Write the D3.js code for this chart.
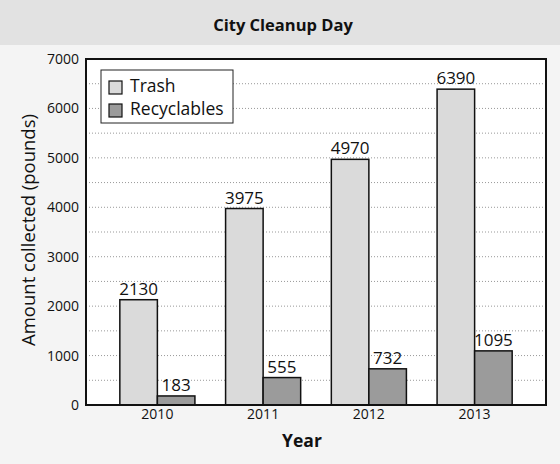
<!DOCTYPE html>
<html>
<head>
<meta charset="utf-8">
<script src="https://cdn.jsdelivr.net/npm/d3@7"></script>
<style>
  body { margin: 0; background: #f4f4f4; }
  text { font-family: "Open Sans", "Noto Sans", sans-serif; fill: #111; }
</style>
</head>
<body>
<svg id="chart" width="560" height="464"></svg>
<script>
// data
var years = ["2010", "2011", "2012", "2013"];
var seriesNames = ["Trash", "Recyclables"];
var trash = [2130, 3975, 4970, 6390];
var recyclables = [183, 555, 732, 1095];
var yTicks = [0, 1000, 2000, 3000, 4000, 5000, 6000, 7000];

var colors = { Trash: "#dadada", Recyclables: "#9b9b9b" };

var svg = d3.select("#chart");
var W = 560, H = 464;
var margin = { left: 86, right: 14, top: 59, bottom: 59 };
var plotW = W - margin.left - margin.right;
var plotH = H - margin.top - margin.bottom;

// title band
svg.append("rect").attr("x", 0).attr("y", 0).attr("width", W).attr("height", 45)
	.attr("fill", "#e2e2e2");
svg.append("text").attr("x", 283).attr("y", 31).attr("text-anchor", "middle")
	.attr("font-size", 16.5).attr("font-weight", "bold").text("City Cleanup Day");

var g = svg.append("g").attr("transform", "translate(" + margin.left + "," + margin.top + ")");

var x0 = d3.scaleBand().domain(years).range([0, plotW]).paddingInner(0.29).paddingOuter(0.32);
var x1 = d3.scaleBand().domain(seriesNames).range([0, x0.bandwidth()]);
var y = d3.scaleLinear().domain([0, 7000]).range([plotH, 0]);

g.append("rect").attr("width", plotW).attr("height", plotH).attr("fill", "#fff");

// dotted grid every 500
g.selectAll(".grid").data(d3.range(500, 7000, 500)).enter().append("line")
	.attr("x1", 0).attr("x2", plotW)
	.attr("y1", function (d) { return y(d); }).attr("y2", function (d) { return y(d); })
	.attr("stroke", "#999").attr("stroke-width", 1).attr("stroke-dasharray", "1,2");

var rows = years.map(function (yr, i) {
	return { year: yr, values: [
		{ key: "Trash", value: trash[i] },
		{ key: "Recyclables", value: recyclables[i] }
	] };
});

var groups = g.selectAll(".yr").data(rows).enter().append("g")
	.attr("transform", function (d) { return "translate(" + x0(d.year) + ",0)"; });

groups.selectAll("rect").data(function (d) { return d.values; }).enter().append("rect")
	.attr("x", function (d) { return x1(d.key); })
	.attr("y", function (d) { return y(d.value); })
	.attr("width", x1.bandwidth())
	.attr("height", function (d) { return plotH - y(d.value); })
	.attr("fill", function (d) { return colors[d.key]; })
	.attr("stroke", "#111").attr("stroke-width", 1.5);

groups.selectAll(".lbl").data(function (d) { return d.values; }).enter().append("text")
	.attr("x", function (d) { return x1(d.key) + x1.bandwidth() / 2; })
	.attr("y", function (d) { return y(d.value) - 5; })
	.attr("text-anchor", "middle").attr("font-size", 17)
	.text(function (d) { return d.value; });

// frame
g.append("rect").attr("width", plotW).attr("height", plotH)
	.attr("fill", "none").attr("stroke", "#111").attr("stroke-width", 2);

// axes
var yAxis = g.append("g").call(d3.axisLeft(y).tickValues(yTicks).tickFormat(d3.format("d")).tickSize(0).tickPadding(7));
yAxis.select(".domain").remove();
yAxis.selectAll("text").attr("font-size", 14).style("font-family", "'Open Sans', sans-serif");

var xAxis = g.append("g").attr("transform", "translate(0," + plotH + ")")
	.call(d3.axisBottom(x0).tickSize(0).tickPadding(4));
xAxis.select(".domain").remove();
xAxis.selectAll("text").attr("font-size", 14).style("font-family", "'Open Sans', sans-serif");

svg.append("text").attr("x", 302).attr("y", 447).attr("text-anchor", "middle")
	.attr("font-size", 17.5).attr("font-weight", "bold").text("Year");

svg.append("text").attr("transform", "translate(35,230) rotate(-90)")
	.attr("text-anchor", "middle").attr("font-size", 18.5).text("Amount collected (pounds)");

// legend
var legend = g.append("g").attr("transform", "translate(15,11)");
legend.append("rect").attr("width", 132).attr("height", 53)
	.attr("fill", "#fff").attr("stroke", "#222").attr("stroke-width", 1);
legend.selectAll(".sw").data(seriesNames).enter().append("rect")
	.attr("x", 8).attr("y", function (d, i) { return 11 + i * 23; })
	.attr("width", 13).attr("height", 13)
	.attr("fill", function (d) { return colors[d]; })
	.attr("stroke", "#111").attr("stroke-width", 1.2);
legend.selectAll(".lt").data(seriesNames).enter().append("text")
	.attr("x", 29).attr("y", function (d, i) { return 22 + i * 23; })
	.attr("font-size", 17.5).text(function (d) { return d; });
</script>
</body>
</html>
